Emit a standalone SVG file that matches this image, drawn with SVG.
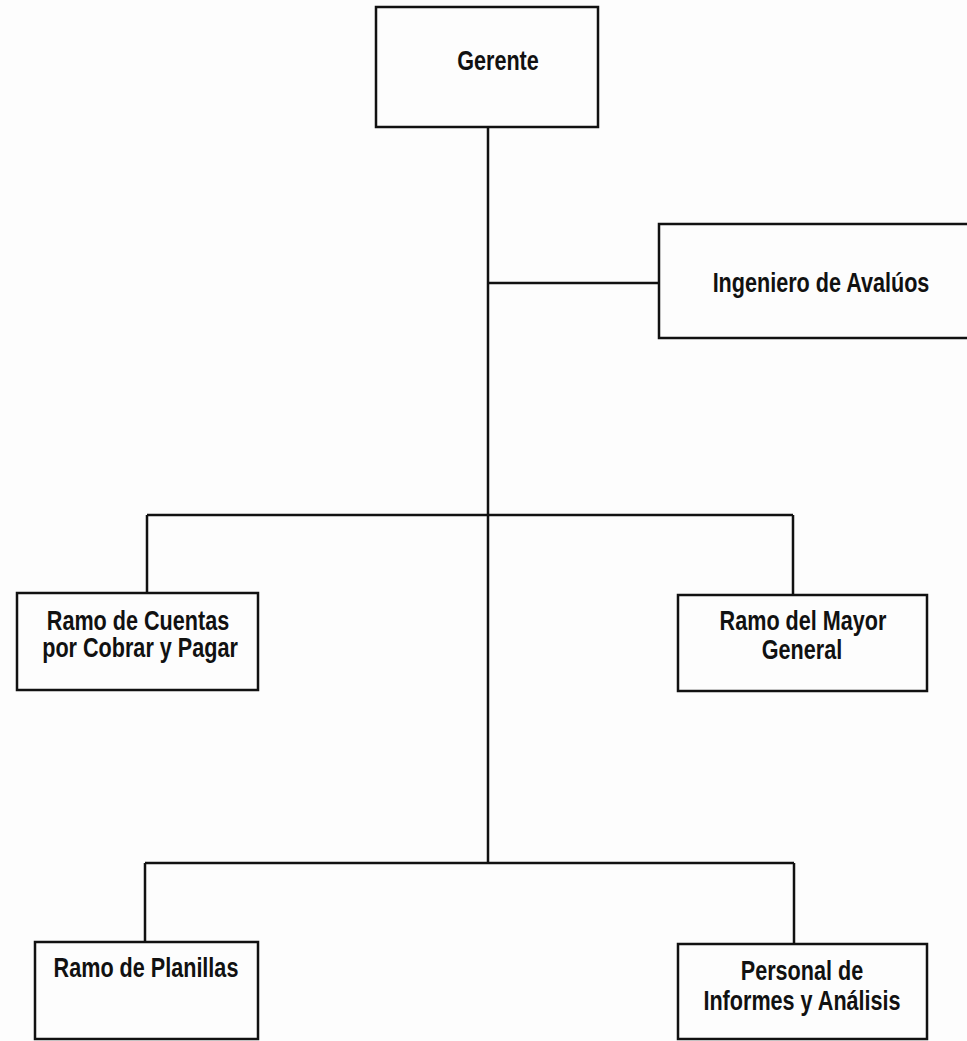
<svg xmlns="http://www.w3.org/2000/svg" width="967" height="1041" viewBox="0 0 967 1041">
  <style>
    .box { fill: none; stroke: #111; stroke-width: 2.5; }
    .wire { fill: none; stroke: #111; stroke-width: 2.5; }
    .lbl { font-family: "Liberation Sans", Arial, sans-serif; font-weight: bold; font-size: 27px; fill: #111; text-anchor: middle; }
  </style>
  <rect width="967" height="1041" fill="#fdfdfd"/>

  <!-- reporting lines -->
  <g id="connectors">
    <path class="wire" d="M488 127 V863"/>
    <path class="wire" d="M488 283 H659"/>
    <path class="wire" d="M147 515 H793 M147 515 V593 M793 515 V595"/>
    <path class="wire" d="M145 863 H794 M145 863 V942 M794 863 V944"/>
  </g>

  <g id="gerente">
    <rect class="box" x="376" y="7" width="222" height="120"/>
    <text class="lbl" transform="translate(498 70) scale(0.8 1)">Gerente</text>
  </g>

  <g id="ingeniero-avaluos">
    <rect class="box" x="659" y="224" width="320" height="114"/>
    <text class="lbl" transform="translate(821 292) scale(0.8 1)">Ingeniero de Avalúos</text>
  </g>

  <g id="cuentas-cobrar-pagar">
    <rect class="box" x="17" y="593" width="241" height="97"/>
    <text class="lbl" transform="translate(138 630) scale(0.8 1)">Ramo de Cuentas</text>
    <text class="lbl" transform="translate(140 657) scale(0.8 1)">por Cobrar y Pagar</text>
  </g>

  <g id="mayor-general">
    <rect class="box" x="678" y="595" width="249" height="96"/>
    <text class="lbl" transform="translate(803 630) scale(0.8 1)">Ramo del Mayor</text>
    <text class="lbl" transform="translate(802 659) scale(0.8 1)">General</text>
  </g>

  <g id="planillas">
    <rect class="box" x="35" y="942" width="223" height="97"/>
    <text class="lbl" transform="translate(146 977) scale(0.8 1)">Ramo de Planillas</text>
  </g>

  <g id="informes-analisis">
    <rect class="box" x="678" y="944" width="249" height="95"/>
    <text class="lbl" transform="translate(802 980) scale(0.8 1)">Personal de</text>
    <text class="lbl" transform="translate(802 1010) scale(0.8 1)">Informes y Análisis</text>
  </g>
</svg>
